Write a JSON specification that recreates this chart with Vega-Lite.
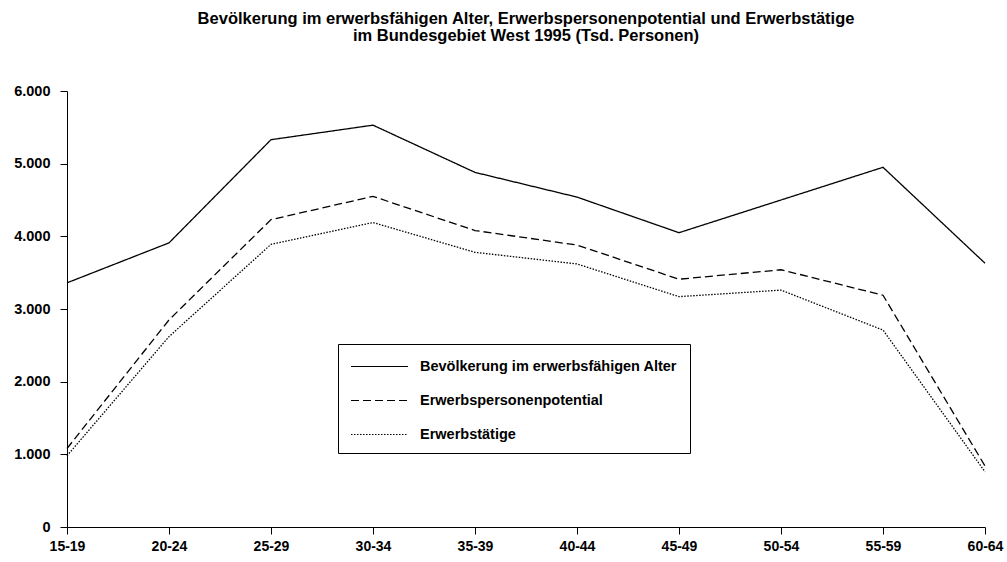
{
  "$schema": "https://vega.github.io/schema/vega-lite/v6.json",
  "autosize": "none",
  "width": 918,
  "height": 436,
  "padding": {"left": 67, "top": 91, "right": 22, "bottom": 35},
  "background": "white",
  "title": {
    "text": ["Bevölkerung im erwerbsfähigen Alter, Erwerbspersonenpotential  und Erwerbstätige", "im Bundesgebiet West 1995  (Tsd. Personen)"],
    "font": "Liberation Sans",
    "fontSize": 16.5,
    "fontWeight": "bold",
    "color": "black",
    "anchor": "middle",
    "lineHeight": 17,
    "offset": 39
  },
  "config": {
    "view": {"stroke": null},
    "font": "Liberation Sans"
  },
  "data": {
    "values": [
      {"age": "15-19", "series": "Bevölkerung im erwerbsfähigen Alter", "value": 3360},
      {"age": "20-24", "series": "Bevölkerung im erwerbsfähigen Alter", "value": 3910},
      {"age": "25-29", "series": "Bevölkerung im erwerbsfähigen Alter", "value": 5330},
      {"age": "30-34", "series": "Bevölkerung im erwerbsfähigen Alter", "value": 5530},
      {"age": "35-39", "series": "Bevölkerung im erwerbsfähigen Alter", "value": 4880},
      {"age": "40-44", "series": "Bevölkerung im erwerbsfähigen Alter", "value": 4540},
      {"age": "45-49", "series": "Bevölkerung im erwerbsfähigen Alter", "value": 4050},
      {"age": "50-54", "series": "Bevölkerung im erwerbsfähigen Alter", "value": 4500},
      {"age": "55-59", "series": "Bevölkerung im erwerbsfähigen Alter", "value": 4950},
      {"age": "60-64", "series": "Bevölkerung im erwerbsfähigen Alter", "value": 3630},
      {"age": "15-19", "series": "Erwerbspersonenpotential", "value": 1080},
      {"age": "20-24", "series": "Erwerbspersonenpotential", "value": 2850},
      {"age": "25-29", "series": "Erwerbspersonenpotential", "value": 4230},
      {"age": "30-34", "series": "Erwerbspersonenpotential", "value": 4550},
      {"age": "35-39", "series": "Erwerbspersonenpotential", "value": 4080},
      {"age": "40-44", "series": "Erwerbspersonenpotential", "value": 3880},
      {"age": "45-49", "series": "Erwerbspersonenpotential", "value": 3410},
      {"age": "50-54", "series": "Erwerbspersonenpotential", "value": 3540},
      {"age": "55-59", "series": "Erwerbspersonenpotential", "value": 3190},
      {"age": "60-64", "series": "Erwerbspersonenpotential", "value": 840},
      {"age": "15-19", "series": "Erwerbstätige", "value": 980},
      {"age": "20-24", "series": "Erwerbstätige", "value": 2620},
      {"age": "25-29", "series": "Erwerbstätige", "value": 3890},
      {"age": "30-34", "series": "Erwerbstätige", "value": 4190},
      {"age": "35-39", "series": "Erwerbstätige", "value": 3780},
      {"age": "40-44", "series": "Erwerbstätige", "value": 3620},
      {"age": "45-49", "series": "Erwerbstätige", "value": 3170},
      {"age": "50-54", "series": "Erwerbstätige", "value": 3260},
      {"age": "55-59", "series": "Erwerbstätige", "value": 2710},
      {"age": "60-64", "series": "Erwerbstätige", "value": 760}
    ]
  },
  "mark": {"type": "line", "strokeWidth": 1.3, "color": "black"},
  "encoding": {
    "x": {
      "field": "age",
      "type": "ordinal",
      "scale": {"type": "point", "padding": 0},
      "axis": {
        "title": null,
        "labelAngle": 0,
        "domainColor": "black",
        "tickColor": "black",
        "tickSize": 7,
        "labelPadding": 5,
        "labelFont": "Liberation Sans",
        "labelFontSize": 14,
        "labelFontWeight": "bold",
        "labelColor": "black"
      }
    },
    "y": {
      "field": "value",
      "type": "quantitative",
      "scale": {"domain": [0, 6000], "nice": false},
      "axis": {
        "title": null,
        "values": [0, 1000, 2000, 3000, 4000, 5000, 6000],
        "labelExpr": "replace(format(datum.value, ','), ',', '.')",
        "grid": false,
        "domainColor": "black",
        "tickColor": "black",
        "tickSize": 7,
        "labelPadding": 10,
        "labelFont": "Liberation Sans",
        "labelFontSize": 14.5,
        "labelFontWeight": "bold",
        "labelColor": "black"
      }
    },
    "strokeDash": {
      "field": "series",
      "type": "nominal",
      "scale": {
        "domain": ["Bevölkerung im erwerbsfähigen Alter", "Erwerbspersonenpotential", "Erwerbstätige"],
        "range": [[1, 0], [8, 4], [1.5, 1.5]]
      },
      "legend": {
        "title": null,
        "orient": "none",
        "legendX": 271,
        "legendY": 253,
        "direction": "vertical",
        "strokeColor": "black",
        "fillColor": "white",
        "padding": 12,
        "symbolType": "M-1,0H5",
        "symbolSize": 361,
        "symbolStrokeColor": "black",
        "symbolStrokeWidth": 1.2,
        "labelFont": "Liberation Sans",
        "labelFontSize": 14.5,
        "labelFontWeight": "bold",
        "labelColor": "black",
        "labelOffset": 49,
        "rowPadding": 17,
        "labelLimit": 400
      }
    }
  }
}
